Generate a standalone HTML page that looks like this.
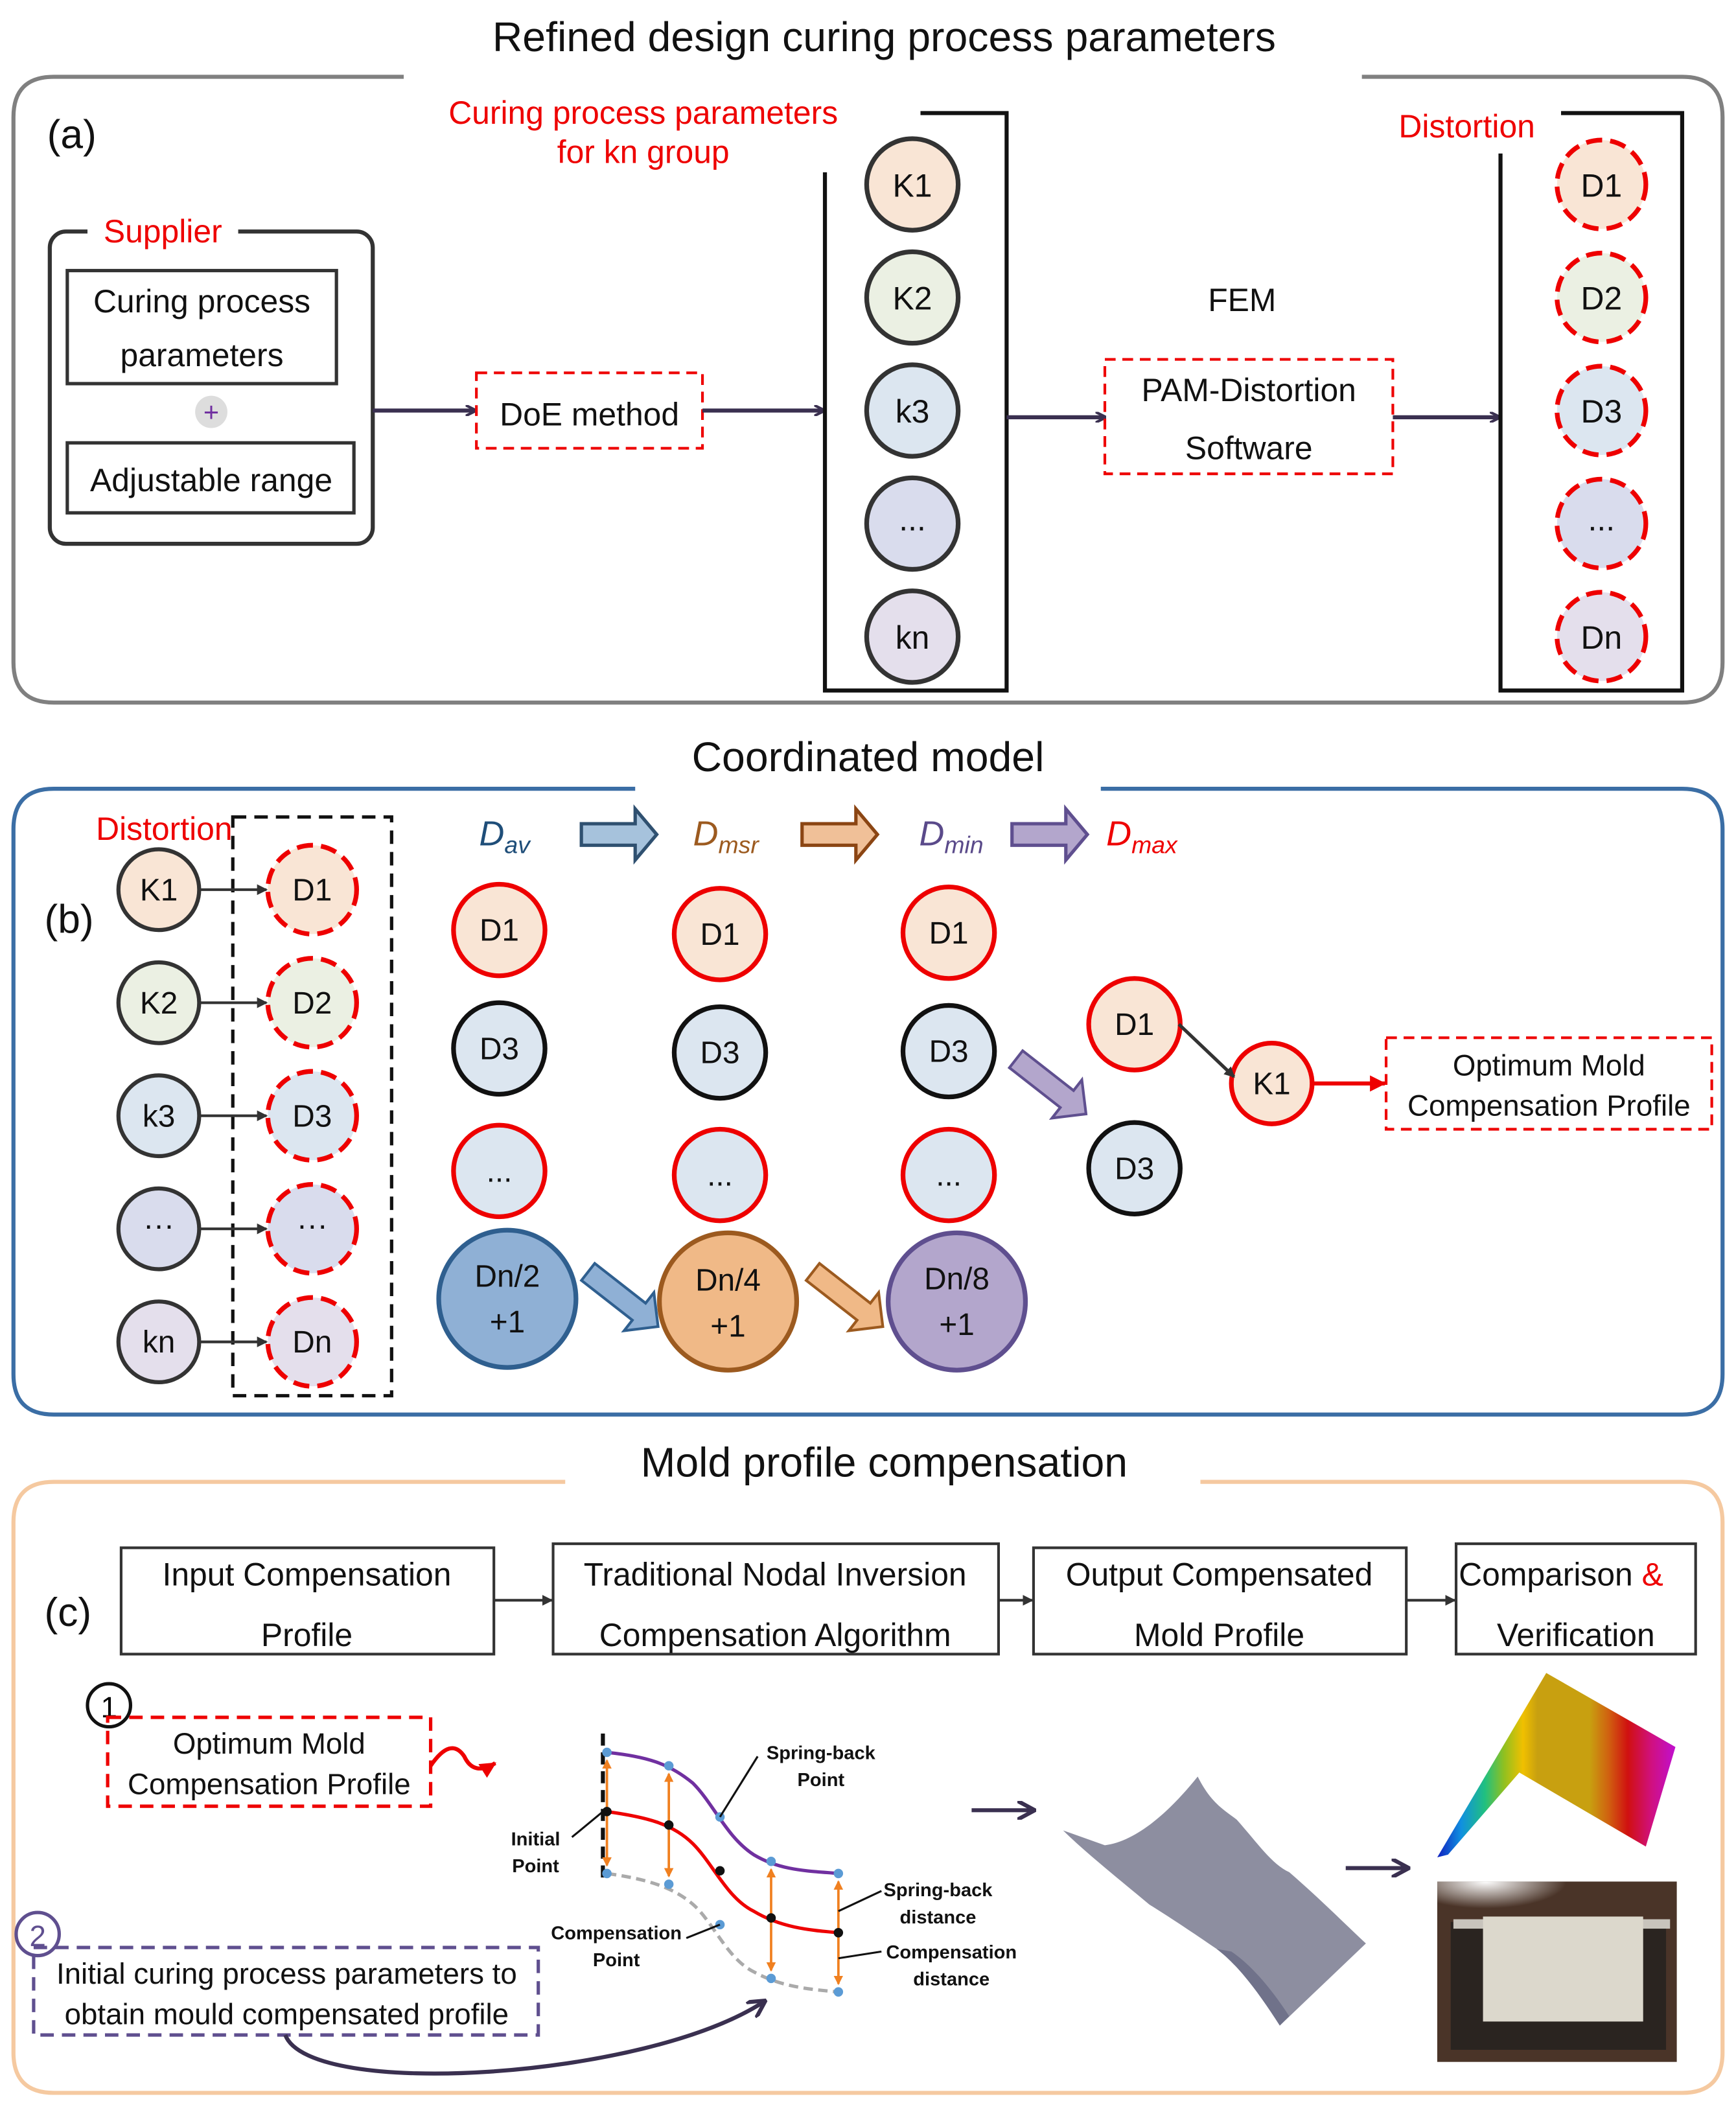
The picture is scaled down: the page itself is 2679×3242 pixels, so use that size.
<!DOCTYPE html>
<html><head><meta charset="utf-8"><style>
html,body{margin:0;padding:0;background:#fff;}
svg{display:block;}
text{font-family:"Liberation Sans","DejaVu Sans",sans-serif;}
</style></head><body>
<svg width="2679" height="3242" viewBox="0 0 1290 1561" xmlns="http://www.w3.org/2000/svg">
<defs>
<marker id="ah" markerWidth="8" markerHeight="8" refX="7" refY="4" orient="auto" markerUnits="userSpaceOnUse"><path d="M0,0 L8,4 L0,8" fill="none" stroke="#3a3050" stroke-width="2"/></marker>
<marker id="ahs" markerWidth="8" markerHeight="8" refX="7" refY="4" orient="auto" markerUnits="userSpaceOnUse"><path d="M0,0 L8,4 L0,8 z" fill="#333"/></marker>
<marker id="ahr" markerWidth="12" markerHeight="12" refX="11" refY="6" orient="auto" markerUnits="userSpaceOnUse"><path d="M0,0 L12,6 L0,12 z" fill="#e00"/></marker>
<marker id="aho" markerWidth="7" markerHeight="7" refX="6" refY="3.5" orient="auto-start-reverse" markerUnits="userSpaceOnUse"><path d="M0,0 L7,3.5 L0,7 z" fill="#f08020"/></marker>
<marker id="ahp" markerWidth="14" markerHeight="14" refX="12" refY="7" orient="auto" markerUnits="userSpaceOnUse"><path d="M0,0 L13,7 L0,14" fill="none" stroke="#3a3050" stroke-width="3"/></marker>
<linearGradient id="rb" x1="1068" x2="1245" y1="0" y2="0" gradientUnits="userSpaceOnUse">
<stop offset="0" stop-color="#1020c0"/><stop offset="0.1" stop-color="#1090e0"/><stop offset="0.2" stop-color="#20c080"/><stop offset="0.28" stop-color="#90c020"/><stop offset="0.36" stop-color="#f0c000"/><stop offset="0.42" stop-color="#c8a010"/><stop offset="0.64" stop-color="#c8a010"/><stop offset="0.72" stop-color="#d06010"/><stop offset="0.8" stop-color="#d01010"/><stop offset="0.9" stop-color="#d01080"/><stop offset="1" stop-color="#c010d0"/></linearGradient>
<radialGradient id="glare" cx="0.3" cy="0" r="0.5"><stop offset="0" stop-color="#fff"/><stop offset="1" stop-color="#fff" stop-opacity="0"/></radialGradient>
</defs>
<rect width="1290" height="1561" fill="#fff"/>

<!-- Panel a -->
<text x="657" y="38" font-size="31" text-anchor="middle" fill="#111">Refined design curing process parameters</text>
<path d="M300,57 L40,57 Q10,57 10,87 L10,492 Q10,522 40,522 L1250,522 Q1280,522 1280,492 L1280,87 Q1280,57 1250,57 L1012,57" fill="none" stroke="#808080" stroke-width="3"/>
<text x="35" y="110" font-size="30" fill="#111">(a)</text>
<rect x="37" y="172" width="240" height="232" rx="12" fill="none" stroke="#333" stroke-width="3"/>
<rect x="65" y="158" width="112" height="28" fill="#fff"/>
<text x="121" y="180" font-size="24" fill="#e00" text-anchor="middle">Supplier</text>
<rect x="50" y="201" width="200" height="84" fill="none" stroke="#333" stroke-width="2.5"/>
<text x="150" y="232" font-size="24" text-anchor="middle" fill="#111">Curing process</text>
<text x="150" y="272" font-size="24" text-anchor="middle" fill="#111">parameters</text>
<circle cx="157" cy="306" r="12" fill="#ddd"/>
<text x="157" y="313" font-size="20" text-anchor="middle" fill="#7030a0">+</text>
<rect x="50" y="329" width="213" height="52" fill="none" stroke="#333" stroke-width="2.5"/>
<text x="157" y="365" font-size="24" text-anchor="middle" fill="#111">Adjustable range</text>
<line x1="277" y1="305" x2="353" y2="305" stroke="#3a3050" stroke-width="3" marker-end="url(#ah)"/>
<rect x="354" y="277" width="168" height="56" fill="none" stroke="#e00" stroke-width="2" stroke-dasharray="8,5"/>
<text x="438" y="316" font-size="24" text-anchor="middle" fill="#111">DoE method</text>
<line x1="522" y1="305" x2="612" y2="305" stroke="#3a3050" stroke-width="3" marker-end="url(#ah)"/>
<path d="M613,128 L613,513 L748,513 L748,84 L684,84" fill="none" stroke="#111" stroke-width="3"/>
<text x="478" y="92" font-size="24" text-anchor="middle" fill="#e00">Curing process parameters</text>
<text x="478" y="121" font-size="24" text-anchor="middle" fill="#e00">for kn group</text>
<g stroke="#333" stroke-width="3.5" font-size="24">
<circle cx="678" cy="137" r="34" fill="#f9e5d5"/><circle cx="678" cy="221" r="34" fill="#ebf0e3"/><circle cx="678" cy="305" r="34" fill="#dce6f0"/><circle cx="678" cy="389" r="34" fill="#d9dced"/><circle cx="678" cy="473" r="34" fill="#e4dfec"/>
</g>
<g font-size="24" text-anchor="middle" fill="#111">
<text x="678" y="146">K1</text><text x="678" y="230">K2</text><text x="678" y="314">k3</text><text x="678" y="394">...</text><text x="678" y="482">kn</text>
</g>
<line x1="748" y1="310" x2="821" y2="310" stroke="#3a3050" stroke-width="3" marker-end="url(#ah)"/>
<text x="923" y="231" font-size="24" text-anchor="middle" fill="#111">FEM</text>
<rect x="821" y="267" width="214" height="85" fill="none" stroke="#e00" stroke-width="2" stroke-dasharray="8,5"/>
<text x="928" y="298" font-size="24" text-anchor="middle" fill="#111">PAM-Distortion</text>
<text x="928" y="341" font-size="24" text-anchor="middle" fill="#111">Software</text>
<line x1="1035" y1="310" x2="1114" y2="310" stroke="#3a3050" stroke-width="3" marker-end="url(#ah)"/>
<path d="M1115,114 L1115,513 L1250,513 L1250,84 L1160,84" fill="none" stroke="#111" stroke-width="3"/>
<text x="1090" y="102" font-size="24" text-anchor="middle" fill="#e00">Distortion</text>
<g stroke="#e00" stroke-width="3.5" stroke-dasharray="12,6">
<circle cx="1190" cy="137" r="33" fill="#f9e5d5"/><circle cx="1190" cy="221" r="33" fill="#ebf0e3"/><circle cx="1190" cy="305" r="33" fill="#dce6f0"/><circle cx="1190" cy="389" r="33" fill="#d9dced"/><circle cx="1190" cy="473" r="33" fill="#e4dfec"/>
</g>
<g font-size="24" text-anchor="middle" fill="#111">
<text x="1190" y="146">D1</text><text x="1190" y="230">D2</text><text x="1190" y="314">D3</text><text x="1190" y="394">...</text><text x="1190" y="482">Dn</text>
</g>

<!-- Panel b -->
<text x="645" y="573" font-size="31" text-anchor="middle" fill="#111">Coordinated model</text>
<path d="M472,586 L40,586 Q10,586 10,616 L10,1021 Q10,1051 40,1051 L1250,1051 Q1280,1051 1280,1021 L1280,616 Q1280,586 1250,586 L818,586" fill="none" stroke="#3b6ea5" stroke-width="3"/>
<text x="33" y="693" font-size="30" fill="#111">(b)</text>
<text x="122" y="624" font-size="24" text-anchor="middle" fill="#e00">Distortion</text>
<rect x="173" y="607" width="118" height="430" fill="none" stroke="#111" stroke-width="2.5" stroke-dasharray="10,6"/>
<g stroke="#333" stroke-width="3">
<circle cx="118" cy="661" r="30" fill="#f9e5d5"/><circle cx="118" cy="745" r="30" fill="#ebf0e3"/><circle cx="118" cy="829" r="30" fill="#dce6f0"/><circle cx="118" cy="913" r="30" fill="#d9dced"/><circle cx="118" cy="997" r="30" fill="#e4dfec"/>
</g>
<g stroke="#333" stroke-width="2" marker-end="url(#ahs)">
<line x1="148" y1="661" x2="198" y2="661"/><line x1="148" y1="745" x2="198" y2="745"/><line x1="148" y1="829" x2="198" y2="829"/><line x1="148" y1="913" x2="198" y2="913"/><line x1="148" y1="997" x2="198" y2="997"/>
</g>
<g stroke="#e00" stroke-width="3.5" stroke-dasharray="12,6">
<circle cx="232" cy="661" r="33" fill="#f9e5d5"/><circle cx="232" cy="745" r="33" fill="#ebf0e3"/><circle cx="232" cy="829" r="33" fill="#dce6f0"/><circle cx="232" cy="913" r="33" fill="#d9dced"/><circle cx="232" cy="997" r="33" fill="#e4dfec"/>
</g>
<g font-size="23" text-anchor="middle" fill="#111">
<text x="118" y="669">K1</text><text x="118" y="753">K2</text><text x="118" y="837">k3</text><text x="118" y="918">···</text><text x="118" y="1005">kn</text>
<text x="232" y="669">D1</text><text x="232" y="753">D2</text><text x="232" y="837">D3</text><text x="232" y="918">···</text><text x="232" y="1005">Dn</text>
</g>
<g font-size="26" font-style="italic">
<text x="356" y="628" fill="#1f4e79">D<tspan font-size="18" dy="6">av</tspan></text>
<text x="515" y="628" fill="#9c5a1f">D<tspan font-size="18" dy="6">msr</tspan></text>
<text x="683" y="628" fill="#5a4a8a">D<tspan font-size="18" dy="6">min</tspan></text>
<text x="822" y="628" fill="#e00">D<tspan font-size="18" dy="6">max</tspan></text>
</g>
<path d="M432,612 L472,612 L472,601 L488,620 L472,639 L472,628 L432,628 z" fill="#a6c2dc" stroke="#2f5070" stroke-width="2.5"/>
<path d="M596,612 L636,612 L636,601 L652,620 L636,639 L636,628 L596,628 z" fill="#f0c098" stroke="#8b4513" stroke-width="2.5"/>
<path d="M752,612 L792,612 L792,601 L808,620 L792,639 L792,628 L752,628 z" fill="#b3a6cc" stroke="#5f4f8f" stroke-width="2.5"/>
<g stroke-width="3.5">
<circle cx="371" cy="691" r="34" fill="#f9e5d5" stroke="#e00"/><circle cx="535" cy="694" r="34" fill="#f9e5d5" stroke="#e00"/><circle cx="705" cy="693" r="34" fill="#f9e5d5" stroke="#e00"/>
<circle cx="371" cy="779" r="34" fill="#dce6f0" stroke="#111"/><circle cx="535" cy="782" r="34" fill="#dce6f0" stroke="#111"/><circle cx="705" cy="781" r="34" fill="#dce6f0" stroke="#111"/>
<circle cx="371" cy="870" r="34" fill="#dce6f0" stroke="#e00"/><circle cx="535" cy="873" r="34" fill="#dce6f0" stroke="#e00"/><circle cx="705" cy="873" r="34" fill="#dce6f0" stroke="#e00"/>
<circle cx="377" cy="965" r="51" fill="#8fb0d5" stroke="#2f5f8f"/><circle cx="541" cy="967" r="51" fill="#f0b987" stroke="#9c5a1f"/><circle cx="711" cy="967" r="51" fill="#b3a6cc" stroke="#5f4f8f"/>
<circle cx="843" cy="761" r="34" fill="#f9e5d5" stroke="#e00"/><circle cx="843" cy="868" r="34" fill="#dce6f0" stroke="#111"/>
<circle cx="945" cy="805" r="30" fill="#f9e5d5" stroke="#e00"/>
</g>
<g font-size="23" text-anchor="middle" fill="#111">
<text x="371" y="699">D1</text><text x="535" y="702">D1</text><text x="705" y="701">D1</text>
<text x="371" y="787">D3</text><text x="535" y="790">D3</text><text x="705" y="789">D3</text>
<text x="371" y="878">...</text><text x="535" y="881">...</text><text x="705" y="881">...</text>
<text x="377" y="956">Dn/2</text><text x="377" y="990">+1</text>
<text x="541" y="959">Dn/4</text><text x="541" y="993">+1</text>
<text x="711" y="958">Dn/8</text><text x="711" y="992">+1</text>
<text x="843" y="769">D1</text><text x="843" y="876">D3</text><text x="945" y="813">K1</text>
</g>
<g transform="translate(437,945) rotate(38)"><path d="M0,-8 L48,-8 L48,-18 L66,0 L48,18 L48,8 L0,8 z" fill="#8fb0d5" stroke="#2f5f8f" stroke-width="2"/></g>
<g transform="translate(604,945) rotate(38)"><path d="M0,-8 L48,-8 L48,-18 L66,0 L48,18 L48,8 L0,8 z" fill="#f0b987" stroke="#9c5a1f" stroke-width="2"/></g>
<g transform="translate(755,787) rotate(38)"><path d="M0,-8 L48,-8 L48,-18 L66,0 L48,18 L48,8 L0,8 z" fill="#b3a6cc" stroke="#5f4f8f" stroke-width="2"/></g>
<line x1="876" y1="761" x2="917" y2="800" stroke="#333" stroke-width="2.5" marker-end="url(#ahs)"/>
<line x1="975" y1="805" x2="1029" y2="805" stroke="#e00" stroke-width="3" marker-end="url(#ahr)"/>
<rect x="1030" y="771" width="242" height="68" fill="none" stroke="#e00" stroke-width="2" stroke-dasharray="8,5"/>
<text x="1151" y="799" font-size="22" text-anchor="middle" fill="#111">Optimum Mold</text>
<text x="1151" y="829" font-size="22" text-anchor="middle" fill="#111">Compensation Profile</text>

<!-- Panel c -->
<text x="657" y="1097" font-size="31" text-anchor="middle" fill="#111">Mold profile compensation</text>
<path d="M420,1101 L40,1101 Q10,1101 10,1131 L10,1525 Q10,1555 40,1555 L1250,1555 Q1280,1555 1280,1525 L1280,1131 Q1280,1101 1250,1101 L892,1101" fill="none" stroke="#f5c9a0" stroke-width="3"/>
<text x="33" y="1208" font-size="30" fill="#111">(c)</text>
<g fill="none" stroke="#333" stroke-width="2">
<rect x="90" y="1150" width="277" height="79"/><rect x="411" y="1147" width="331" height="82"/><rect x="768" y="1150" width="277" height="79"/><rect x="1082" y="1147" width="178" height="82"/>
</g>
<g font-size="24" text-anchor="middle" fill="#111">
<text x="228" y="1178">Input Compensation</text><text x="228" y="1223">Profile</text>
<text x="576" y="1178">Traditional Nodal Inversion</text><text x="576" y="1223">Compensation Algorithm</text>
<text x="906" y="1178">Output Compensated</text><text x="906" y="1223">Mold Profile</text>
<text x="1160" y="1178">Comparison <tspan fill="#e00">&amp;</tspan></text><text x="1171" y="1223">Verification</text>
</g>
<g stroke="#333" stroke-width="2" marker-end="url(#ahs)">
<line x1="367" y1="1189" x2="410" y2="1189"/><line x1="742" y1="1189" x2="767" y2="1189"/><line x1="1045" y1="1189" x2="1081" y2="1189"/>
</g>
<circle cx="81" cy="1267" r="16" fill="#fff" stroke="#111" stroke-width="2.5"/>
<text x="81" y="1276" font-size="22" text-anchor="middle">1</text>
<rect x="80" y="1276" width="240" height="66" fill="none" stroke="#e00" stroke-width="2.5" stroke-dasharray="10,6"/>
<text x="200" y="1303" font-size="22" text-anchor="middle" fill="#111">Optimum Mold</text>
<text x="200" y="1333" font-size="22" text-anchor="middle" fill="#111">Compensation Profile</text>
<path d="M320,1312 Q335,1290 345,1305 Q352,1320 368,1310" fill="none" stroke="#e00" stroke-width="3" marker-end="url(#ahr)"/>
<!-- curves -->
<line x1="448" y1="1288" x2="448" y2="1400" stroke="#111" stroke-width="3" stroke-dasharray="9,5"/>
<path d="M451,1302 C480,1305 497,1310 515,1325 C530,1340 540,1365 560,1378 C580,1390 600,1390 623,1392" fill="none" stroke="#7030a0" stroke-width="2.5"/>
<path d="M451,1346 C480,1350 500,1355 515,1370 C530,1385 540,1410 560,1420 C580,1432 600,1434 623,1436" fill="none" stroke="#e00" stroke-width="2.5"/>
<path d="M451,1392 C480,1396 500,1402 515,1415 C530,1428 540,1455 560,1465 C580,1476 600,1478 623,1480" fill="none" stroke="#aaa" stroke-width="2.5" stroke-dasharray="7,4"/>
<g stroke="#f08020" stroke-width="1.8" marker-end="url(#aho)" marker-start="url(#aho)">
<line x1="451" y1="1308" x2="451" y2="1386"/><line x1="497" y1="1318" x2="497" y2="1394"/><line x1="573" y1="1389" x2="573" y2="1464"/><line x1="623" y1="1398" x2="623" y2="1474"/>
</g>
<g fill="#5b9bd5"><circle cx="451" cy="1302" r="3.5"/><circle cx="497" cy="1312" r="3.5"/><circle cx="535" cy="1350" r="3.5"/><circle cx="573" cy="1383" r="3.5"/><circle cx="623" cy="1392" r="3.5"/>
<circle cx="451" cy="1392" r="3.5"/><circle cx="497" cy="1400" r="3.5"/><circle cx="535" cy="1430" r="3.5"/><circle cx="573" cy="1470" r="3.5"/><circle cx="623" cy="1480" r="3.5"/></g>
<g fill="#111"><circle cx="451" cy="1346" r="3.5"/><circle cx="497" cy="1356" r="3.5"/><circle cx="535" cy="1390" r="3.5"/><circle cx="573" cy="1425" r="3.5"/><circle cx="623" cy="1436" r="3.5"/></g>
<g stroke="#111" stroke-width="1.5">
<line x1="425" y1="1365" x2="448" y2="1346"/><line x1="535" y1="1350" x2="563" y2="1305"/><line x1="623" y1="1420" x2="655" y2="1405"/><line x1="623" y1="1455" x2="655" y2="1450"/><line x1="510" y1="1440" x2="535" y2="1430"/>
</g>
<g font-size="14" font-weight="bold" text-anchor="middle" fill="#111">
<text x="398" y="1371">Initial</text><text x="398" y="1391">Point</text>
<text x="610" y="1307">Spring-back</text><text x="610" y="1327">Point</text>
<text x="697" y="1409">Spring-back</text><text x="697" y="1429">distance</text>
<text x="707" y="1455">Compensation</text><text x="707" y="1475">distance</text>
<text x="458" y="1441">Compensation</text><text x="458" y="1461">Point</text>
</g>
<line x1="722" y1="1345" x2="768" y2="1345" stroke="#3a3050" stroke-width="3" marker-end="url(#ahp)"/>
<!-- sheet -->
<path d="M790,1360 L821,1371 C845,1368 870,1345 890,1320 C900,1340 910,1345 919,1352 C935,1370 945,1385 958,1391 C980,1410 1000,1430 1015,1444 L951,1505 C935,1480 920,1460 904,1448 C885,1435 870,1425 854,1415 C830,1395 805,1375 790,1360 z" fill="#8d8ea0"/>
<path d="M904,1448 C920,1460 935,1480 951,1505 L958,1498 C945,1478 930,1460 915,1450 z" fill="#70728a"/>
<line x1="1000" y1="1388" x2="1046" y2="1388" stroke="#3a3050" stroke-width="3" marker-end="url(#ahp)"/>
<!-- rainbow -->
<path d="M1068,1380 L1149,1243 L1245,1298 L1223,1372 L1129,1317 L1076,1378 z" fill="url(#rb)"/>
<!-- photo -->
<rect x="1068" y="1398" width="178" height="134" fill="#4a3428"/>
<rect x="1078" y="1428" width="160" height="95" fill="#2a2420"/>
<rect x="1080" y="1426" width="161" height="7" fill="#c8c4bc"/>
<rect x="1102" y="1424" width="119" height="78" fill="#dcd8cc"/>
<rect x="1068" y="1398" width="120" height="40" fill="url(#glare)"/>
<circle cx="28" cy="1437" r="16" fill="#fff" stroke="#5f4f8f" stroke-width="2.5"/>
<text x="28" y="1446" font-size="22" text-anchor="middle" fill="#5f4f8f">2</text>
<rect x="25" y="1447" width="375" height="65" fill="none" stroke="#5f4f8f" stroke-width="2.5" stroke-dasharray="10,6"/>
<text x="213" y="1474" font-size="22" text-anchor="middle" fill="#111">Initial curing process parameters to</text>
<text x="213" y="1504" font-size="22" text-anchor="middle" fill="#111">obtain mould compensated profile</text>
<path d="M212,1512 C230,1560 480,1545 568,1487" fill="none" stroke="#3a3050" stroke-width="3" marker-end="url(#ahp)"/>
</svg>
</body></html>
